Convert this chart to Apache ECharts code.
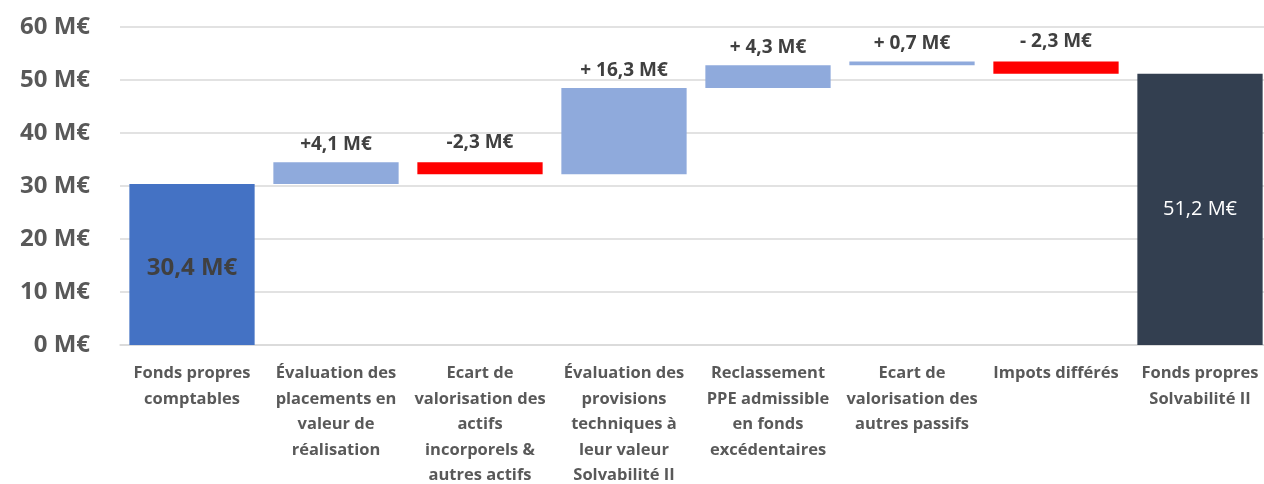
<!DOCTYPE html>
<html>
<head>
<meta charset="utf-8">
<style>
  html, body { margin: 0; padding: 0; background: #fff; }
  #chart { width: 1264px; height: 484px; }
</style>
<script src="https://cdn.jsdelivr.net/npm/echarts@6/dist/echarts.min.js"></script>
</head>
<body>
<div id="chart"></div>
<script>
// Categories (line breaks as in the original)
const categories = [
  'Fonds propres\ncomptables',
  'Évaluation des\nplacements en\nvaleur de\nréalisation',
  'Ecart de\nvalorisation des\nactifs\nincorporels &\nautres actifs',
  'Évaluation des\nprovisions\ntechniques à\nleur valeur\nSolvabilité II',
  'Reclassement\nPPE admissible\nen fonds\nexcédentaires',
  'Ecart de\nvalorisation des\nautres passifs',
  'Impots différés',
  'Fonds propres\nSolvabilité II'
]
// Bar bottoms (invisible base) and visible heights, in M€
const baseValues = [0, 30.4, 32.2, 32.2, 48.5, 52.8, 51.2, 0]
const barValues = [30.4, 4.1, 2.3, 16.3, 4.3, 0.7, 2.3, 51.2]
const barLabels = ['30,4 M€', '+4,1 M€', '-2,3 M€', '+ 16,3 M€', '+ 4,3 M€', '+ 0,7 M€', '- 2,3 M€', '51,2 M€']
const barKinds = ['start', 'up', 'down', 'up', 'up', 'up', 'down', 'end']
const yTicks = [0, 10, 20, 30, 40, 50, 60]

const COLORS = { start: '#4472C4', up: '#8FAADC', down: '#FF0000', end: '#333F50' }
const FONT = '"Open Sans", sans-serif'

const labelFor = (kind, i) => {
  if (kind === 'start') {
    return { show: true, position: 'inside', offset: [0, 4], color: '#404040', fontSize: 24, fontWeight: 'bold', fontFamily: FONT, formatter: () => barLabels[i] }
  }
  if (kind === 'end') {
    return { show: true, position: 'inside', color: '#ffffff', fontSize: 20, fontFamily: FONT, formatter: () => barLabels[i] }
  }
  // decreases sit a little higher above their bar than increases
  return { show: true, position: 'top', distance: kind === 'down' ? 10 : 8, color: '#404040', fontSize: 19, fontWeight: 'bold', fontFamily: FONT, formatter: () => barLabels[i] }
}

const chart = echarts.init(document.getElementById('chart'))
chart.setOption({
  animation: false,
  grid: { left: 120, top: 27, width: 1152, bottom: 139, containLabel: false, outerBoundsMode: 'none' },
  xAxis: {
    type: 'category',
    data: categories,
    axisLine: { show: true, lineStyle: { color: '#d9d9d9', width: 1.5 } },
    axisTick: { show: false },
    axisLabel: {
      interval: 0, margin: 16, color: '#595959', fontSize: 16.5, fontWeight: 'bold',
      fontFamily: FONT, lineHeight: 25.5, align: 'center'
    }
  },
  yAxis: {
    type: 'value',
    min: yTicks[0],
    max: yTicks[yTicks.length - 1],
    interval: 10,
    axisLine: { show: false },
    axisTick: { show: false },
    splitLine: { lineStyle: { color: '#d9d9d9', width: 1.5 } },
    axisLabel: {
      margin: 30, color: '#595959', fontSize: 24, fontWeight: 'bold', fontFamily: FONT,
      formatter: v => v + ' M€'
    }
  },
  series: [
    {
      name: 'base',
      type: 'bar',
      stack: 'wf',
      barCategoryGap: '13%',
      itemStyle: { color: 'transparent' },
      emphasis: { disabled: true },
      data: baseValues
    },
    {
      name: 'value',
      type: 'bar',
      stack: 'wf',
      barCategoryGap: '13%',
      data: barValues.map((v, i) => ({
        value: v,
        itemStyle: { color: COLORS[barKinds[i]] },
        label: labelFor(barKinds[i], i)
      }))
    }
  ]
})
</script>
</body>
</html>
